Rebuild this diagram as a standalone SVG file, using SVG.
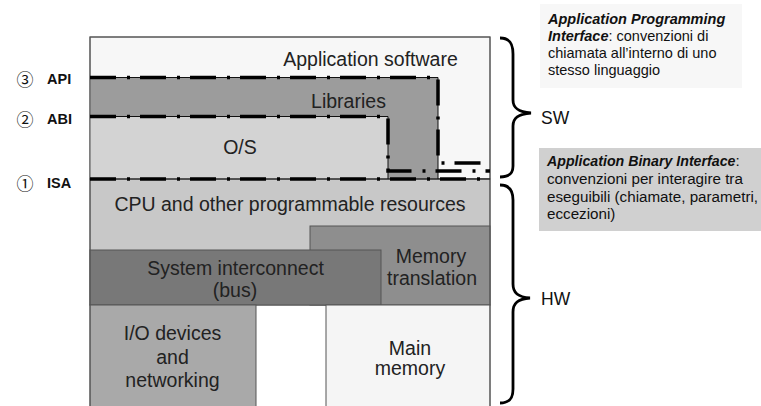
<svg xmlns="http://www.w3.org/2000/svg" width="761" height="406" viewBox="0 0 761 406">
<style>
.box{stroke:#555;stroke-width:1}
.t{font-family:"Liberation Sans",Arial,sans-serif;font-size:19.5px;fill:#222;text-anchor:middle}
.n{font-family:"Liberation Sans",Arial,sans-serif;font-size:14.5px;fill:#111}
.m{font-family:"Liberation Sans",Arial,sans-serif;font-size:15.2px;fill:#111}
.bi{font-weight:bold;font-style:italic}
.lab{font-family:"Liberation Sans",Arial,sans-serif;font-size:14.5px;font-weight:bold;fill:#111}
.circ{font-family:"Noto Sans CJK JP","DejaVu Sans",sans-serif;font-size:17px;fill:#111;text-anchor:middle}
.thin{fill:none;stroke:#111;stroke-width:1}
.thick{fill:none;stroke:#000;stroke-width:3.5;stroke-dasharray:26 11 3 10}
.brace{fill:none;stroke:#000;stroke-width:2.8}
.big{font-family:"Liberation Sans",Arial,sans-serif;font-size:17.5px;fill:#111}
</style>
<rect width="761" height="406" fill="#fff"/>
<g id="app-software">
<rect class="box" x="90" y="37" width="400" height="142" fill="#f7f7f7"/>
<text class="t" x="370.5" y="66">Application software</text>
</g>
<g id="libraries">
<polygon points="90,77 438,77 438,179 388,179 388,116 90,116" fill="#9c9c9c"/>
<text class="t" x="348.5" y="108">Libraries</text>
</g>
<g id="os">
<rect x="90" y="116" width="298" height="63" fill="#d3d3d3"/>
<text class="t" x="240" y="154">O/S</text>
</g>
<g id="cpu">
<rect class="box" x="90" y="179" width="400" height="126" fill="#c8c8c8"/>
<text class="t" x="290" y="211">CPU and other programmable resources</text>
</g>
<g id="memory-translation">
<rect class="box" x="310" y="226" width="180" height="79" fill="#8e8e8e"/>
<text class="t" x="431" y="263">Memory</text>
<text class="t" x="432" y="285">translation</text>
</g>
<g id="system-interconnect">
<rect class="box" x="90" y="250" width="291" height="55" fill="#787878"/>
<text class="t" x="235.5" y="275">System interconnect</text>
<text class="t" x="235" y="297">(bus)</text>
</g>
<g id="io-devices">
<rect class="box" x="90" y="305" width="166" height="105" fill="#a9a9a9"/>
<text class="t" x="172.5" y="340">I/O devices</text>
<text class="t" x="172.5" y="364">and</text>
<text class="t" x="172.5" y="387">networking</text>
</g>
<g id="main-memory">
<rect class="box" x="326" y="305" width="164" height="105" fill="#f5f5f5"/>
<text class="t" x="410" y="355">Main</text>
<text class="t" x="410" y="375">memory</text>
</g>
<rect x="90" y="37" width="400" height="373" fill="none" stroke="#555" stroke-width="1"/>
<g id="connectors">
<path class="thin" d="M90,77.5 H438 V179"/>
<path class="thin" d="M90,116.5 H388 V179"/>
<path class="thin" d="M90,179 H490"/>
<path class="thick" d="M90,77.5 H438 V163 H490"/>
<path class="thick" d="M90,116.5 H388 V171 H490"/>
<path class="thick" d="M90,179 H490"/>
</g>
<g id="api-label">
<text class="circ" x="25" y="86">③</text>
<text class="lab" x="47" y="84">API</text>
</g>
<g id="abi-label">
<text class="circ" x="25" y="126">②</text>
<text class="lab" x="47" y="124">ABI</text>
</g>
<g id="isa-label">
<text class="circ" x="25" y="190">①</text>
<text class="lab" x="47" y="188">ISA</text>
</g>
<g id="sw-brace">
<path class="brace" d="M500,38 C510,38 513,44 513,54 V100 C513,108 518,112 531,113 C518,114 513,118 513,126 V166 C513,173 510,177 500,177"/>
<text class="big" x="541" y="124">SW</text>
</g>
<g id="hw-brace">
<path class="brace" d="M500,185 C510,185 513,191 513,200 V284 C513,293 518,297 530,298 C518,299 513,303 513,312 V389 C513,398 510,403 500,403"/>
<text class="big" x="541" y="305">HW</text>
</g>
<g id="api-note">
<rect x="540" y="4" width="202" height="84" fill="#f7f7f7"/>
<text class="n" x="548" y="24"><tspan class="bi">Application Programming</tspan></text>
<text class="n" x="548" y="41"><tspan class="bi">Interface</tspan>: convenzioni di</text>
<text class="n" x="548" y="58">chiamata all’interno di uno</text>
<text class="n" x="548" y="75">stesso linguaggio</text>
</g>
<g id="abi-note">
<rect x="539" y="148" width="222" height="83" fill="#d0d0d0"/>
<text class="m" x="547" y="166"><tspan class="bi" style="font-size:14.2px">Application Binary Interface</tspan>:</text>
<text class="m" x="547" y="184">convenzioni per interagire tra</text>
<text class="m" x="547" y="202">eseguibili (chiamate, parametri,</text>
<text class="m" x="547" y="219">eccezioni)</text>
</g>
</svg>
